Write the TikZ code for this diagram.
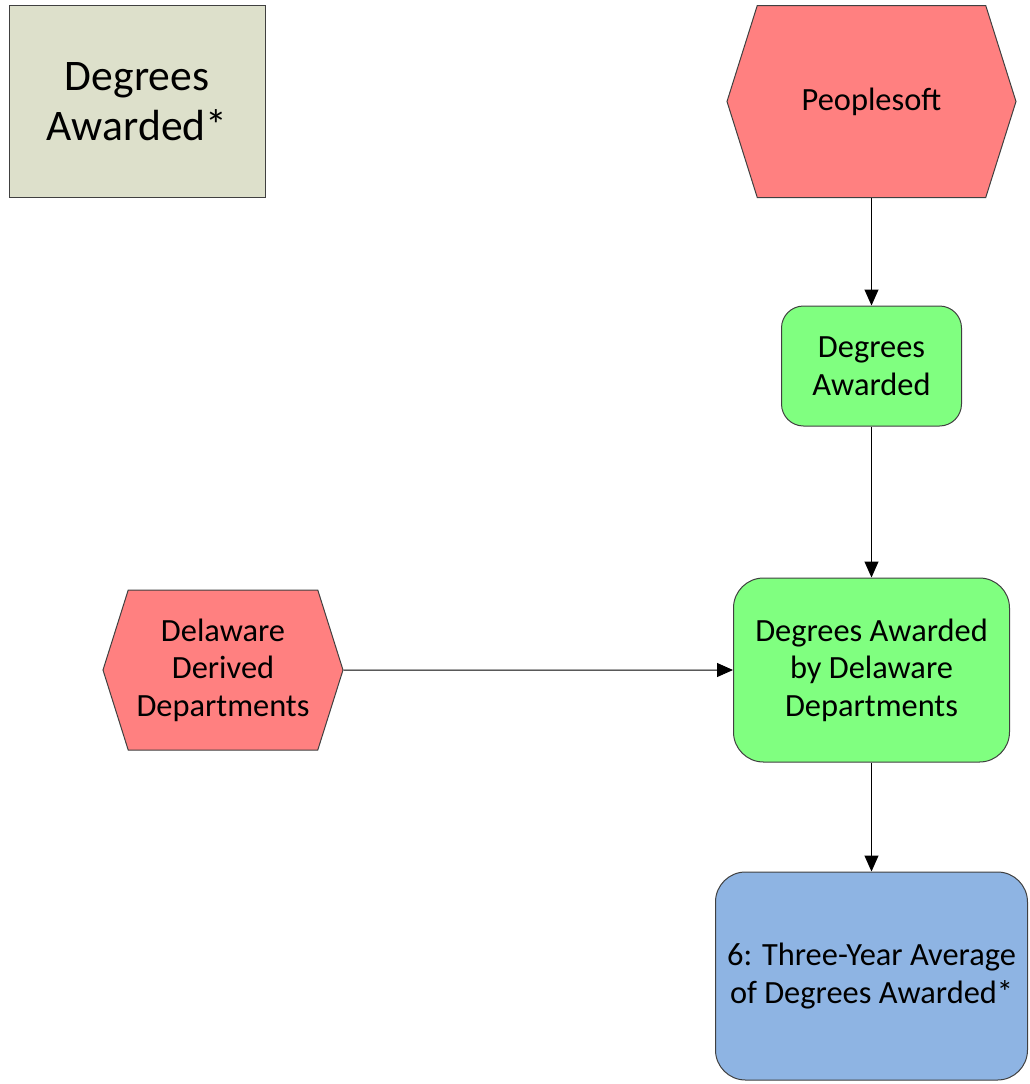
\documentclass[tikz,border=0pt]{standalone}
\usepackage{fontspec}
\setmainfont{Carlito}
\usetikzlibrary{shapes.symbols,arrows.meta}
\definecolor{srcred}{HTML}{FF8080}
\definecolor{stepgreen}{HTML}{80FF80}
\definecolor{outblue}{HTML}{8EB4E3}
\definecolor{titlegray}{HTML}{DDE0CB}
\begin{document}
\begin{tikzpicture}[line width=0.5pt, >={Triangle[length=8pt,width=7pt]},
		hexa/.style = {draw=black!75, fill=srcred, shape=signal, signal to=west and east, signal pointer angle=145, inner sep=0pt, align=center, font=\fontsize{16.2}{18.8}\selectfont},
		proc/.style = {draw=black!75, fill=stepgreen, rounded corners=10pt, inner sep=0pt, align=center, font=\fontsize{16.2}{18.8}\selectfont},
		result/.style = {draw=black!75, fill=outblue, rounded corners=15pt, inner sep=0pt, align=center, font=\fontsize{16.2}{18.8}\selectfont}]
		\useasboundingbox (0,0) rectangle (515pt,-542pt);
		\node[hexa, minimum width=144.5pt, minimum height=96pt] (ps) at (435.75pt,-50.75pt) {Peoplesoft};
		\node[draw=black!75, fill=titlegray, minimum width=128pt, minimum height=96pt, align=center, font=\fontsize{21.8}{25}\selectfont] (title) [left of=ps, node distance=367.25pt] {Degrees\\Awarded*};
		\node[proc, minimum width=90pt, minimum height=60pt, rounded corners=11pt] (da) [below of=ps, node distance=132.25pt] {Degrees\\Awarded};
		\node[proc, minimum width=138pt, minimum height=92pt, rounded corners=15pt] (dadd) [below of=da, node distance=152pt] {Degrees Awarded\\by Delaware\\Departments};
		\node[hexa, minimum width=120pt, minimum height=80pt] (del) [left of=dadd, node distance=324.25pt] {Delaware\\Derived\\Departments};
		\node[result, minimum width=156pt, minimum height=104pt] (avg) [below of=dadd, node distance=153pt] {6: Three-Year Average\\of Degrees Awarded*};
		\draw[->] (ps) to (da);
		\draw[->] (da) to (dadd);
		\draw[->] (del) to (dadd);
		\draw[->] (dadd) to (avg);

	\end{tikzpicture}
\end{document}
